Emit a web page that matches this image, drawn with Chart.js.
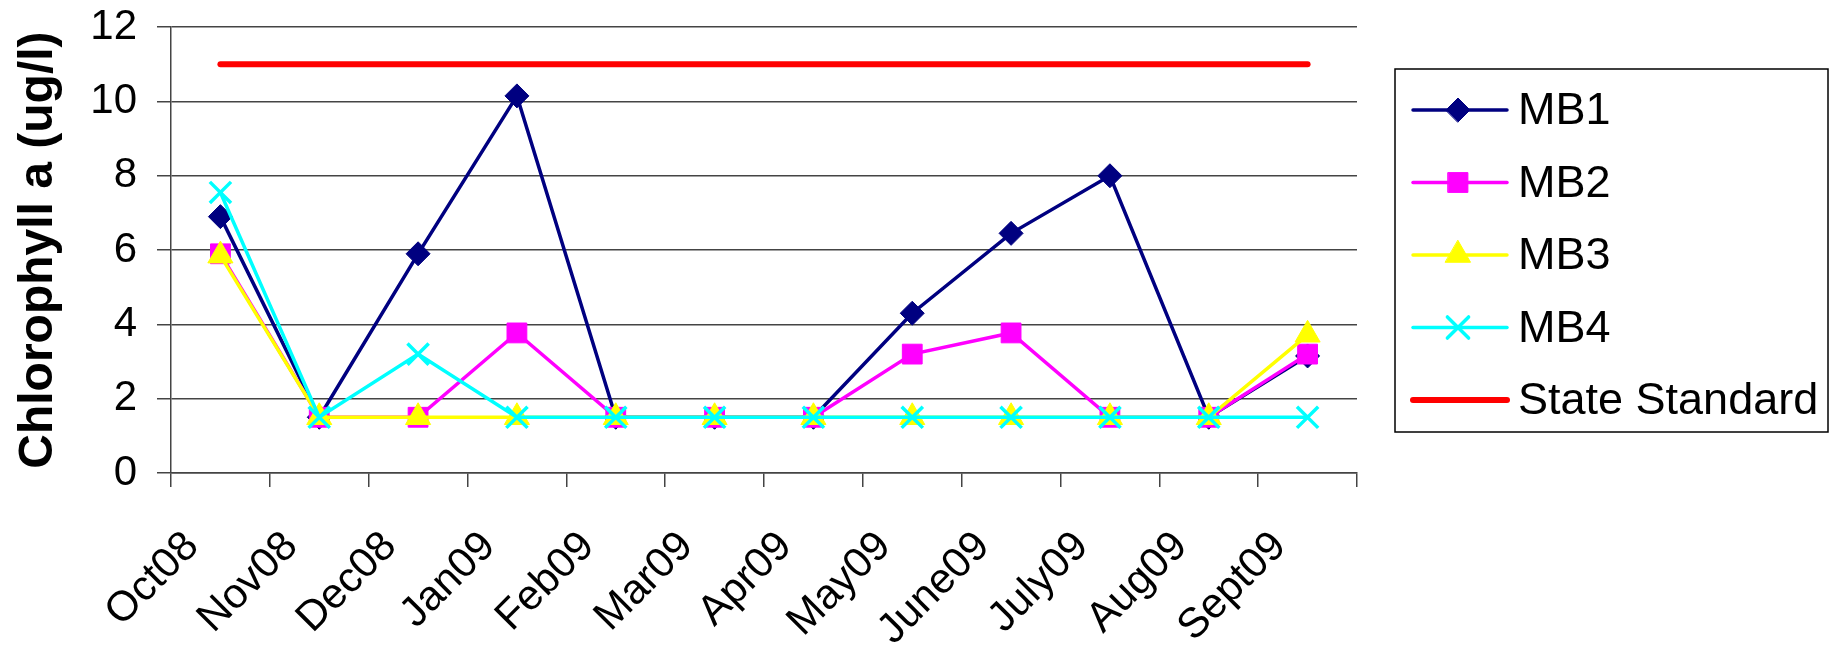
<!DOCTYPE html>
<html>
<head>
<meta charset="utf-8">
<script src="https://cdn.jsdelivr.net/npm/chart.js@4/dist/chart.umd.min.js"></script>
<style>
  html, body { margin: 0; padding: 0; background: #fff; }
  #wrap { width: 1833px; height: 645px; }
</style>
</head>
<body>
<div id="wrap"><canvas id="canvas"></canvas></div>
<script>
var months = ["Oct08", "Nov08", "Dec08", "Jan09", "Feb09", "Mar09", "Apr09", "May09", "June09", "July09", "Aug09", "Sept09"];
var mb1 = [6.9, 1.5, 5.9, 10.15, 1.5, 1.5, 1.5, 4.3, 6.45, 8.0, 1.5, 3.15];
var mb2 = [5.9, 1.5, 1.5, 3.77, 1.5, 1.5, 1.5, 3.2, 3.77, 1.5, 1.5, 3.2];
var mb3 = [5.85, 1.5, 1.5, 1.5, 1.5, 1.5, 1.5, 1.5, 1.5, 1.5, 1.5, 3.72];
var mb4 = [7.55, 1.5, 3.2, 1.5, 1.5, 1.5, 1.5, 1.5, 1.5, 1.5, 1.5, 1.5];
var stateStandard = [11, 11, 11, 11, 11, 11, 11, 11, 11, 11, 11, 11];
var yTicks = [0, 2, 4, 6, 8, 10, 12];

var fontFamily = "'Liberation Sans', Arial, sans-serif";

function series(label, data, color, style, radius, order) {
    return {
        label: label,
        data: data,
        borderColor: color,
        backgroundColor: color,
        borderWidth: 3.5,
        pointStyle: style,
        pointRadius: radius,
        pointHoverRadius: radius,
        pointBorderWidth: style === 'crossRot' ? 3.5 : 1,
        pointBorderColor: color,
        pointBackgroundColor: color,
        tension: 0,
        order: order
    };
}

// legend drawn by hand so every entry shows line + marker like the original
var boxLegend = {
    id: 'boxLegend',
    afterDraw: function(chart) {
        var ctx = chart.ctx;
        var left = 1395, top = 69, w = 433, h = 363;
        ctx.save();
        ctx.strokeStyle = '#000';
        ctx.lineWidth = 1.5;
        ctx.strokeRect(left, top, w, h);
        ctx.font = "45px " + fontFamily;
        ctx.textBaseline = 'middle';
        ctx.textAlign = 'left';
        var ds = chart.data.datasets;
        for (var i = 0; i < ds.length; i++) {
            var y = 110 + i * 72.5;
            ctx.strokeStyle = ds[i].borderColor;
            ctx.lineWidth = ds[i].borderWidth;
            ctx.lineCap = 'round';
            ctx.beginPath();
            ctx.moveTo(1413, y);
            ctx.lineTo(1507, y);
            ctx.stroke();
            if (ds[i].pointRadius > 0) {
                ctx.fillStyle = ds[i].pointBackgroundColor;
                ctx.strokeStyle = ds[i].pointBorderColor;
                ctx.lineWidth = ds[i].pointBorderWidth;
                Chart.helpers.drawPoint(ctx, {
                    pointStyle: ds[i].pointStyle,
                    radius: ds[i].pointRadius,
                    rotation: 0,
                    borderWidth: ds[i].pointBorderWidth
                }, 1458, y);
            }
            ctx.fillStyle = '#000';
            ctx.fillText(ds[i].label, 1518, y + 2);
        }
        ctx.restore();
    }
};

var canvas = document.getElementById('canvas');
var chart = new Chart(canvas, {
    type: 'line',
    data: {
        labels: months,
        datasets: [
            series('MB1', mb1, '#000080', 'rectRot', 12, 4),
            series('MB2', mb2, '#FF00FF', 'rect', 14, 3),
            series('MB3', mb3, '#FFFF00', 'triangle', 14.5, 2),
            series('MB4', mb4, '#00FFFF', 'crossRot', 15, 1),
            {
                label: 'State Standard',
                data: stateStandard,
                borderColor: '#FF0000',
                backgroundColor: '#FF0000',
                borderWidth: 6,
                borderCapStyle: 'round',
                pointRadius: 0,
                pointHoverRadius: 0,
                order: 0
            }
        ]
    },
    options: {
        responsive: true,
        maintainAspectRatio: false,
        animation: false,
        events: [],
        layout: { padding: { top: 27, right: 476, left: 0, bottom: 0 } },
        plugins: {
            legend: { display: false },
            tooltip: { enabled: false }
        },
        scales: {
            x: {
                offset: true,
                grid: {
                    offset: true,
                    drawOnChartArea: false,
                    drawTicks: true,
                    tickLength: 14,
                    color: '#444',
                    lineWidth: 1.5
                },
                border: { color: '#444', width: 1.5 },
                ticks: {
                    autoSkip: false,
                    minRotation: 45,
                    maxRotation: 45,
                    padding: 35,
                    labelOffset: -28,
                    color: '#000',
                    font: { size: 42, family: fontFamily }
                },
                afterFit: function(scale) { scale.height = 172; }
            },
            y: {
                min: 0,
                max: 12,
                afterBuildTicks: function(scale) {
                    scale.ticks = yTicks.map(function(v) { return { value: v }; });
                },
                grid: {
                    color: '#444',
                    lineWidth: 1.5,
                    tickLength: 14
                },
                border: { color: '#444', width: 1.5 },
                ticks: {
                    padding: 20,
                    color: '#000',
                    font: { size: 42, family: fontFamily, lineHeight: 0.34 }
                },
                title: {
                    display: true,
                    text: 'Chlorophyll a (ug/l)',
                    color: '#000',
                    font: { size: 48, weight: 'bold', family: fontFamily },
                    padding: { top: 10, bottom: 0 }
                },
                afterFit: function(scale) { scale.width = 171; }
            }
        }
    },
    plugins: [boxLegend]
});
</script>
</body>
</html>
